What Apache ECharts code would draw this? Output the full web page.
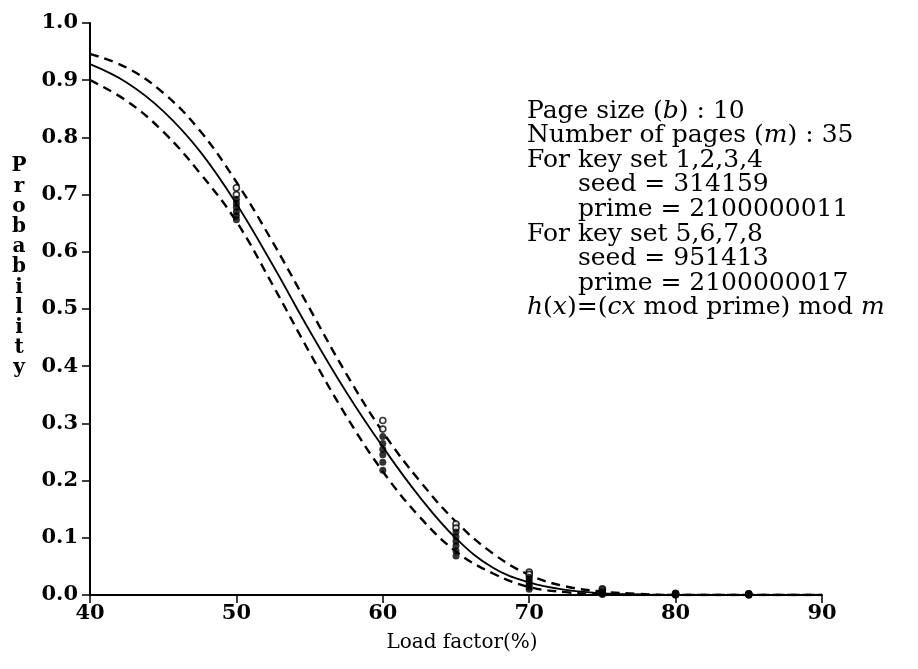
<!DOCTYPE html>
<html><head><meta charset="utf-8">
<script src="https://cdn.jsdelivr.net/npm/echarts@6/dist/echarts.min.js"></script>
<style>html,body{margin:0;padding:0;background:#fff}#c{width:918px;height:669px}</style>
</head><body><div id="c"></div>
<script>
// ---- data ----
const curveX     = [40, 42.5, 45, 47.5, 50, 52.5, 55, 57.5, 60, 62.5, 65, 67.5, 70, 72.5, 75, 77.5, 80, 85, 90];
const expected   = [0.928, 0.896, 0.846, 0.776, 0.684, 0.576, 0.462, 0.355, 0.259, 0.172, 0.099, 0.048, 0.022, 0.009, 0.003, 0.001, 0, 0, 0];
const upperBound = [0.946, 0.922, 0.878, 0.812, 0.722, 0.616, 0.501, 0.387, 0.285, 0.200, 0.128, 0.073, 0.035, 0.015, 0.006, 0.002, 0, 0, 0];
const lowerBound = [0.900, 0.864, 0.810, 0.738, 0.653, 0.541, 0.424, 0.313, 0.216, 0.137, 0.076, 0.038, 0.014, 0.005, 0.001, 0, 0, 0, 0];

const markerX  = [50, 60, 65, 70, 75, 80, 85];
const keySet1  = [0.712, 0.305, 0.124, 0.040, 0.011, 0.003, 0.002];
const keySet2  = [0.700, 0.290, 0.117, 0.036, 0.009, 0.002, 0.002];
const keySet3  = [0.692, 0.277, 0.110, 0.031, 0.007, 0.002, 0.001];
const keySet4  = [0.685, 0.265, 0.102, 0.027, 0.005, 0.001, 0.001];
const keySet5  = [0.678, 0.255, 0.094, 0.022, 0.004, 0.001, 0.001];
const keySet6  = [0.670, 0.245, 0.086, 0.018, 0.003, 0.001, 0.000];
const keySet7  = [0.663, 0.232, 0.077, 0.014, 0.002, 0.000, 0.000];
const keySet8  = [0.656, 0.218, 0.068, 0.010, 0.001, 0.000, 0.000];
const keySets  = [keySet1, keySet2, keySet3, keySet4, keySet5, keySet6, keySet7, keySet8];
const hollowSets = [0, 1];

const xTicks = [40, 50, 60, 70, 80, 90];
const yTicks = [0.0, 0.1, 0.2, 0.3, 0.4, 0.5, 0.6, 0.7, 0.8, 0.9, 1.0];
const yTitle = 'Probability';
const xTitle = 'Load factor(%)';
const noteLines = [
  {indent: 0, text: 'Page size ({i|b}) : 10'},
  {indent: 0, text: 'Number of pages ({i|m}) : 35'},
  {indent: 0, text: 'For key set 1,2,3,4'},
  {indent: 1, text: 'seed = 314159'},
  {indent: 1, text: 'prime = 2100000011'},
  {indent: 0, text: 'For key set 5,6,7,8'},
  {indent: 1, text: 'seed = 951413'},
  {indent: 1, text: 'prime = 2100000017'},
  {indent: 0, text: '{i|h}({i|x})=({i|cx} mod prime) mod {i|m}'}
];

// ---- chart ----
const SERIF = '"DejaVu Serif", "Liberation Serif", serif';
const chart = echarts.init(document.getElementById('c'), null, {renderer: 'canvas'});
const zip = (xs, ys) => xs.map((x, i) => [x, ys[i]]);

const series = [
  {type: 'line', data: zip(curveX, upperBound), smooth: 0.4, showSymbol: false, silent: true,
   lineStyle: {color: '#000', width: 2.4, type: [9, 6]}, z: 2},
  {type: 'line', data: zip(curveX, expected), smooth: 0.4, showSymbol: false, silent: true,
   lineStyle: {color: '#000', width: 1.8}, z: 3},
  {type: 'line', data: zip(curveX, lowerBound), smooth: 0.4, showSymbol: false, silent: true,
   lineStyle: {color: '#000', width: 2.4, type: [9, 6]}, z: 2}
];
keySets.forEach((ks, k) => {
  const hollow = hollowSets.includes(k);
  series.push({
    type: 'scatter', data: zip(markerX, ks), symbol: 'circle', symbolSize: hollow ? 6 : 7,
    itemStyle: hollow ? {color: '#fff', borderColor: '#000', borderWidth: 1.6} : {color: '#000'},
    z: hollow ? 5 : 6, silent: true
  });
});

const graphics = [{
  type: 'text', left: 9, top: 156, silent: true,
  style: {text: yTitle.split('').join('\n'), font: 'bold 20px ' + SERIF, fill: '#000',
          textAlign: 'center', lineHeight: 20.2, width: 20}
}];
noteLines.forEach((ln, i) => {
  graphics.push({
    type: 'text', x: ln.indent ? 578 : 527, y: 111 + i * 24.6, silent: true,
    style: {text: ln.text, fill: '#000', fontFamily: SERIF, fontSize: 25, verticalAlign: 'middle',
            rich: {i: {fontFamily: SERIF, fontSize: 25, fontStyle: 'italic', fill: '#000'}}}
  });
});

chart.setOption({
  animation: false,
  backgroundColor: '#fff',
  grid: {left: 90, right: 96, top: 23, bottom: 74, containLabel: false},
  xAxis: {
    type: 'value', min: xTicks[0], max: xTicks[xTicks.length - 1], interval: 10,
    axisLine: {lineStyle: {color: '#000', width: 2}},
    axisTick: {length: 8, lineStyle: {color: '#000', width: 1.5}},
    axisLabel: {color: '#000', fontFamily: SERIF, fontWeight: 'bold', fontSize: 21, margin: 8},
    splitLine: {show: false},
    name: xTitle, nameLocation: 'middle', nameGap: 38,
    nameTextStyle: {color: '#000', fontFamily: SERIF, fontSize: 20, padding: [0, 0, 0, 12]}
  },
  yAxis: {
    type: 'value', min: yTicks[0], max: yTicks[yTicks.length - 1], interval: 0.1,
    axisLine: {show: true, lineStyle: {color: '#000', width: 2}},
    axisTick: {show: true, length: 8, lineStyle: {color: '#000', width: 1.5}},
    axisLabel: {color: '#000', fontFamily: SERIF, fontWeight: 'bold', fontSize: 21, margin: 12,
                formatter: v => v.toFixed(1)},
    splitLine: {show: false}
  },
  series: series,
  graphic: graphics
});
</script>
</body></html>
